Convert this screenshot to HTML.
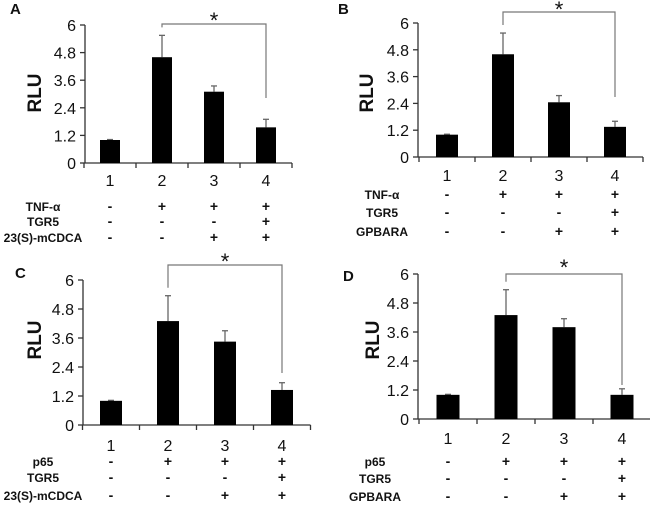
<!DOCTYPE html>
<html><head><meta charset="utf-8"><style>
html,body{margin:0;padding:0;background:#fff;width:650px;height:509px;overflow:hidden}
svg{display:block}
text{font-family:"Liberation Sans",Arial,sans-serif;fill:#111}
</style></head><body>
<svg id="fig" width="650" height="509" viewBox="0 0 650 509"></svg>
<script>
const categories = ["1","2","3","4"];
const tickLabels = ["0","1.2","2.4","3.6","4.8","6"];
const tickValues = [0,1.2,2.4,3.6,4.8,6];
const valuesA = [1.0,4.6,3.1,1.55];
const errorsA = [0.02,0.95,0.25,0.35];
const valuesB = [1.0,4.6,2.45,1.35];
const errorsB = [0.02,0.95,0.3,0.25];
const valuesC = [1.0,4.3,3.45,1.45];
const errorsC = [0.02,1.05,0.45,0.3];
const valuesD = [1.0,4.3,3.8,1.0];
const errorsD = [0.02,1.05,0.35,0.25];
const rowsA = ["TNF-α","TGR5","23(S)-mCDCA"];
const rowsB = ["TNF-α","TGR5","GPBARA"];
const rowsC = ["p65","TGR5","23(S)-mCDCA"];
const rowsD = ["p65","TGR5","GPBARA"];
const signs = [["-","+","+","+"],["-","-","-","+"],["-","-","+","+"]];

const NS="http://www.w3.org/2000/svg";
const svg=document.getElementById('fig');
function mk(tag,attrs,parent){const e=document.createElementNS(NS,tag);for(const k in attrs)e.setAttribute(k,attrs[k]);(parent||svg).appendChild(e);return e;}

const panels=[
 {id:'a',letter:'A',lx:10,ly:14,ax:85,y6:25,y0:163,cx0:110,dx:52,bw:20,vals:valuesA,errs:errorsA,rows:rowsA,labCx:43,numY:186,rowY:[211,226,242],rlu:[34,93],brY:24,brDrop:98,starY:28},
 {id:'b',letter:'B',lx:338,ly:14,ax:418,y6:23,y0:157,cx0:447,dx:56,bw:22,vals:valuesB,errs:errorsB,rows:rowsB,labCx:382,numY:181,rowY:[199,217,236],rlu:[366,93],brY:12,brDrop:97,starY:17},
 {id:'c',letter:'C',lx:15,ly:278,ax:83,y6:280,y0:425,cx0:111,dx:57,bw:22,vals:valuesC,errs:errorsC,rows:rowsC,labCx:43,numY:451,rowY:[466,482,500],rlu:[34,340],brY:265,brDrop:373,starY:269},
 {id:'d',letter:'D',lx:343,ly:281,ax:418,y6:274,y0:419,cx0:448,dx:58,bw:23,vals:valuesD,errs:errorsD,rows:rowsD,labCx:375,numY:444,rowY:[466,483,501],rlu:[372,340],brY:274,brDrop:385,starY:275}
];

panels.forEach(p=>{
 const g=mk('g',{});
 
 
 const y=v=>p.y0-(v/6)*(p.y0-p.y6);
 const x=i=>p.cx0+i*p.dx;
 const lt=mk('text',{x:p.lx,y:p.ly,'font-size':15,'font-weight':'bold'},g);lt.textContent=p.letter;
 
 
 const ya=mk('line',{x1:p.ax,y1:p.y6,x2:p.ax,y2:p.y0,stroke:'#333','stroke-width':1.3},g);
 
 
 tickValues.forEach((v,i)=>{
  mk('line',{x1:p.ax-5,y1:y(v),x2:p.ax,y2:y(v),stroke:'#333','stroke-width':1.3},g);
  const t=mk('text',{x:p.ax-9,y:y(v)+6,'font-size':16,'text-anchor':'end',fill:'#000'},g);t.textContent=tickLabels[i];
  
  
 });
 const rl=mk('text',{x:0,y:0,'font-size':19,'font-weight':'bold','text-anchor':'middle',transform:`translate(${p.rlu[0]+7},${p.rlu[1]}) rotate(-90)`},g);rl.textContent='RLU';
 
 
 const xEnd=x(3)+p.dx/2;
 const xa=mk('line',{x1:p.ax,y1:p.y0,x2:xEnd,y2:p.y0,stroke:'#333','stroke-width':1.3},g);
 
 
 for(let i=0;i<=4;i++){const tx=x(i)-p.dx/2;mk('line',{x1:tx,y1:p.y0,x2:tx,y2:p.y0+5,stroke:'#333','stroke-width':1.3},g);}
 categories.forEach((c,i)=>{
  const v=p.vals[i],e=p.errs[i];
  mk('line',{x1:x(i),y1:y(v),x2:x(i),y2:y(v+e),stroke:'#666','stroke-width':1.3},g);
  mk('line',{x1:x(i)-3,y1:y(v+e),x2:x(i)+3,y2:y(v+e),stroke:'#666','stroke-width':1.3},g);
  const b=mk('rect',{x:x(i)-p.bw/2,y:y(v),width:p.bw,height:p.y0-y(v),fill:'#000'},g);
  
  
  const t=mk('text',{x:x(i),y:p.numY,'font-size':16,'text-anchor':'middle',fill:'#000'},g);t.textContent=c;
  
  
  signs.forEach((r,j)=>{const s=mk('text',{x:x(i),y:p.rowY[j],'font-size':14,'font-weight':'bold','text-anchor':'middle',fill:'#000'},g);s.textContent=r[i];
   
   });
 });
 p.rows.forEach((r,j)=>{const t=mk('text',{x:p.labCx,y:p.rowY[j],'font-size':12,'font-weight':'bold','text-anchor':'middle',fill:'#000'},g);t.textContent=r;
  
  });
 const br=mk('path',{d:`M${x(1)} ${y(p.vals[1]+p.errs[1])-8} L${x(1)} ${p.brY} L${x(3)} ${p.brY} L${x(3)} ${p.brDrop}`,fill:'none',stroke:'#777','stroke-width':1.2},g);
 
 
 const st=mk('text',{x:(x(1)+x(3))/2,y:p.starY,'font-size':22,'text-anchor':'middle',fill:'#444'},g);st.textContent='*';
 
 
});
</script>
</body></html>
